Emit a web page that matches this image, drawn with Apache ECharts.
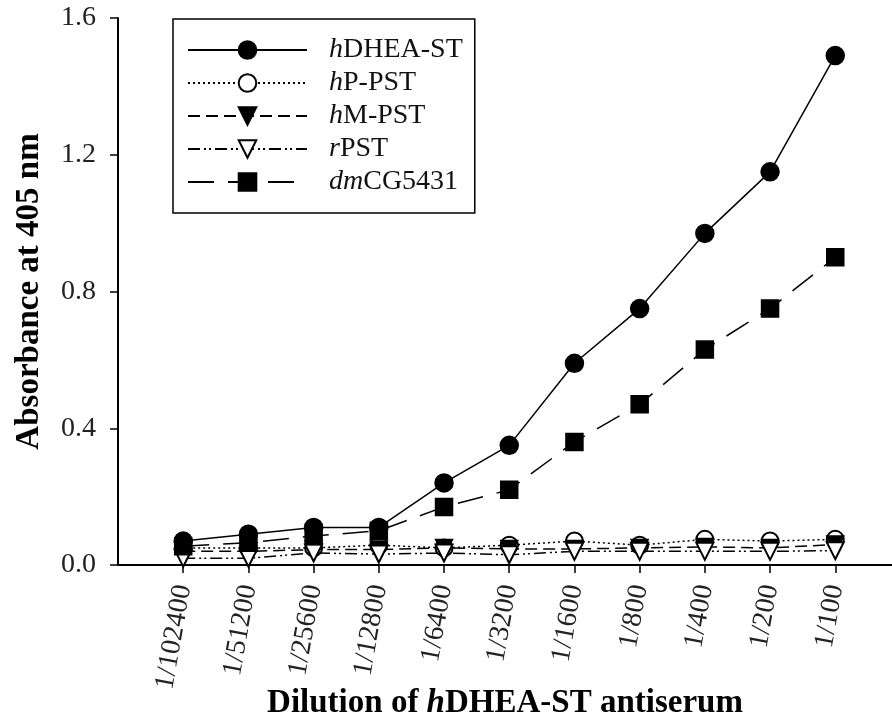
<!DOCTYPE html>
<html>
<head>
<meta charset="utf-8">
<script src="https://cdn.jsdelivr.net/npm/echarts@6/dist/echarts.min.js"></script>
<style>
  html, body { margin: 0; padding: 0; background: #fff; }
  #chart { width: 892px; height: 717px; }
</style>
</head>
<body>
<div id="chart"></div>
<script>
// tick labels of the x axis (positions 1..11)
const dilutions = ['1/102400', '1/51200', '1/25600', '1/12800', '1/6400', '1/3200',
                   '1/1600', '1/800', '1/400', '1/200', '1/100'];
const positions = [1, 2, 3, 4, 5, 6, 7, 8, 9, 10, 11];

// absorbance values
const hDHEA = [0.07, 0.09, 0.11, 0.11, 0.24, 0.35, 0.59, 0.75, 0.97, 1.15, 1.49];
const hPPST = [0.05, 0.05, 0.05, 0.058, 0.05, 0.058, 0.07, 0.058, 0.075, 0.07, 0.075];
const hMPST = [0.04, 0.04, 0.045, 0.045, 0.05, 0.047, 0.047, 0.05, 0.053, 0.05, 0.06];
const rPST = [0.02, 0.02, 0.035, 0.032, 0.035, 0.03, 0.04, 0.04, 0.04, 0.04, 0.042];
const dmCG = [0.055, 0.065, 0.085, 0.10, 0.17, 0.22, 0.36, 0.47, 0.63, 0.75, 0.90];

const yTicks = [0, 0.4, 0.8, 1.2, 1.6];

const serif = "'Liberation Serif', 'Times New Roman', serif";

// legend labels with the italic prefix
const legendNames = {
    'hDHEA-ST': '{g|}{i|h}{n|DHEA-ST}',
    'hP-PST': '{g|}{i|h}{n|P-PST}',
    'hM-PST': '{g|}{i|h}{n|M-PST}',
    'rPST': '{g|}{i|r}{n|PST}',
    'dmCG5431': '{g|}{i|dm}{n|CG5431}'
};

function pts(arr) {
    return arr.map((v, i) => [positions[i], v]);
}

function serie(name, values, symbol, size, rotate, dash, z) {
    return {
        name: name,
        type: 'line',
        data: pts(values),
        symbol: symbol,
        symbolSize: size,
        symbolRotate: rotate,
        z: z,
        color: '#000',
        itemStyle: { color: '#000', borderColor: '#000', borderWidth: 1.5 },
        lineStyle: { color: '#000', width: 1.5, type: dash },
        emphasis: { disabled: true },
        animation: false
    };
}

const chart = echarts.init(document.getElementById('chart'));

const option = {
    backgroundColor: '#fff',
    animation: false,
    grid: { left: 118, right: 0, top: 18, bottom: 152, containLabel: false, outerBoundsMode: 'none' },
    legend: {
        data: ['hDHEA-ST', 'hP-PST', 'hM-PST', 'rPST', 'dmCG5431'],
        orient: 'vertical',
        left: 173,
        top: 19,
        padding: [17, 12, 17, 14],
        itemGap: 5,
        itemWidth: 119,
        itemHeight: 22,
        borderColor: '#000',
        borderWidth: 1.5,
        selectedMode: false,
        formatter: name => legendNames[name],
        textStyle: {
            fontFamily: serif,
            fontSize: 28,
            color: '#111',
            rich: {
                g: { width: 17 },
                i: { fontFamily: serif, fontSize: 28, fontStyle: 'italic', color: '#111' },
                n: { fontFamily: serif, fontSize: 28, color: '#111' }
            }
        }
    },
    xAxis: {
        type: 'value',
        min: 0,
        max: 11.87,
        interval: 1,
        name: 'Dilution of {i|h}DHEA-ST antiserum',
        nameLocation: 'middle',
        nameGap: 122,
        nameMoveOverlap: false,
        nameTextStyle: {
            fontFamily: serif,
            fontSize: 33,
            fontWeight: 'bold',
            color: '#000',
            verticalAlign: 'top',
            rich: {
                i: { fontFamily: serif, fontSize: 33, fontWeight: 'bold', fontStyle: 'italic', color: '#000' }
            }
        },
        axisLine: { lineStyle: { color: '#000', width: 2 } },
        axisTick: { length: 8, lineStyle: { color: '#000', width: 1.5 }, customValues: positions },
        axisLabel: {
            customValues: positions,
            rotate: 80,
            margin: 20,
            fontFamily: serif,
            fontSize: 28,
            color: '#222',
            formatter: v => dilutions[Math.round(v) - 1] || ''
        },
        splitLine: { show: false }
    },
    yAxis: {
        type: 'value',
        min: 0,
        max: 1.6,
        interval: 0.4,
        name: 'Absorbance at 405 nm',
        nameLocation: 'middle',
        nameGap: 72,
        nameMoveOverlap: false,
        nameTextStyle: {
            fontFamily: serif,
            fontSize: 33,
            fontWeight: 'bold',
            color: '#000'
        },
        axisLine: { show: true, lineStyle: { color: '#000', width: 2 } },
        axisTick: { show: true, length: 8, lineStyle: { color: '#000', width: 1.5 }, customValues: yTicks },
        axisLabel: {
            customValues: yTicks,
            margin: 22,
            fontFamily: serif,
            fontSize: 28,
            color: '#222',
            formatter: v => v.toFixed(1)
        },
        splitLine: { show: false }
    },
    series: [
        serie('hP-PST', hPPST, 'emptyCircle', 17, 0, [2, 3], 2),
        serie('hM-PST', hMPST, 'triangle', 17, 180, [12, 6], 3),
        serie('rPST', rPST, 'emptyTriangle', 17, 180, [12, 4, 2, 3, 2, 4], 4),
        serie('dmCG5431', dmCG, 'rect', 17, 0, [26, 14], 5),
        serie('hDHEA-ST', hDHEA, 'circle', 18, 0, 'solid', 6)
    ]
};

chart.setOption(option);
</script>
</body>
</html>
